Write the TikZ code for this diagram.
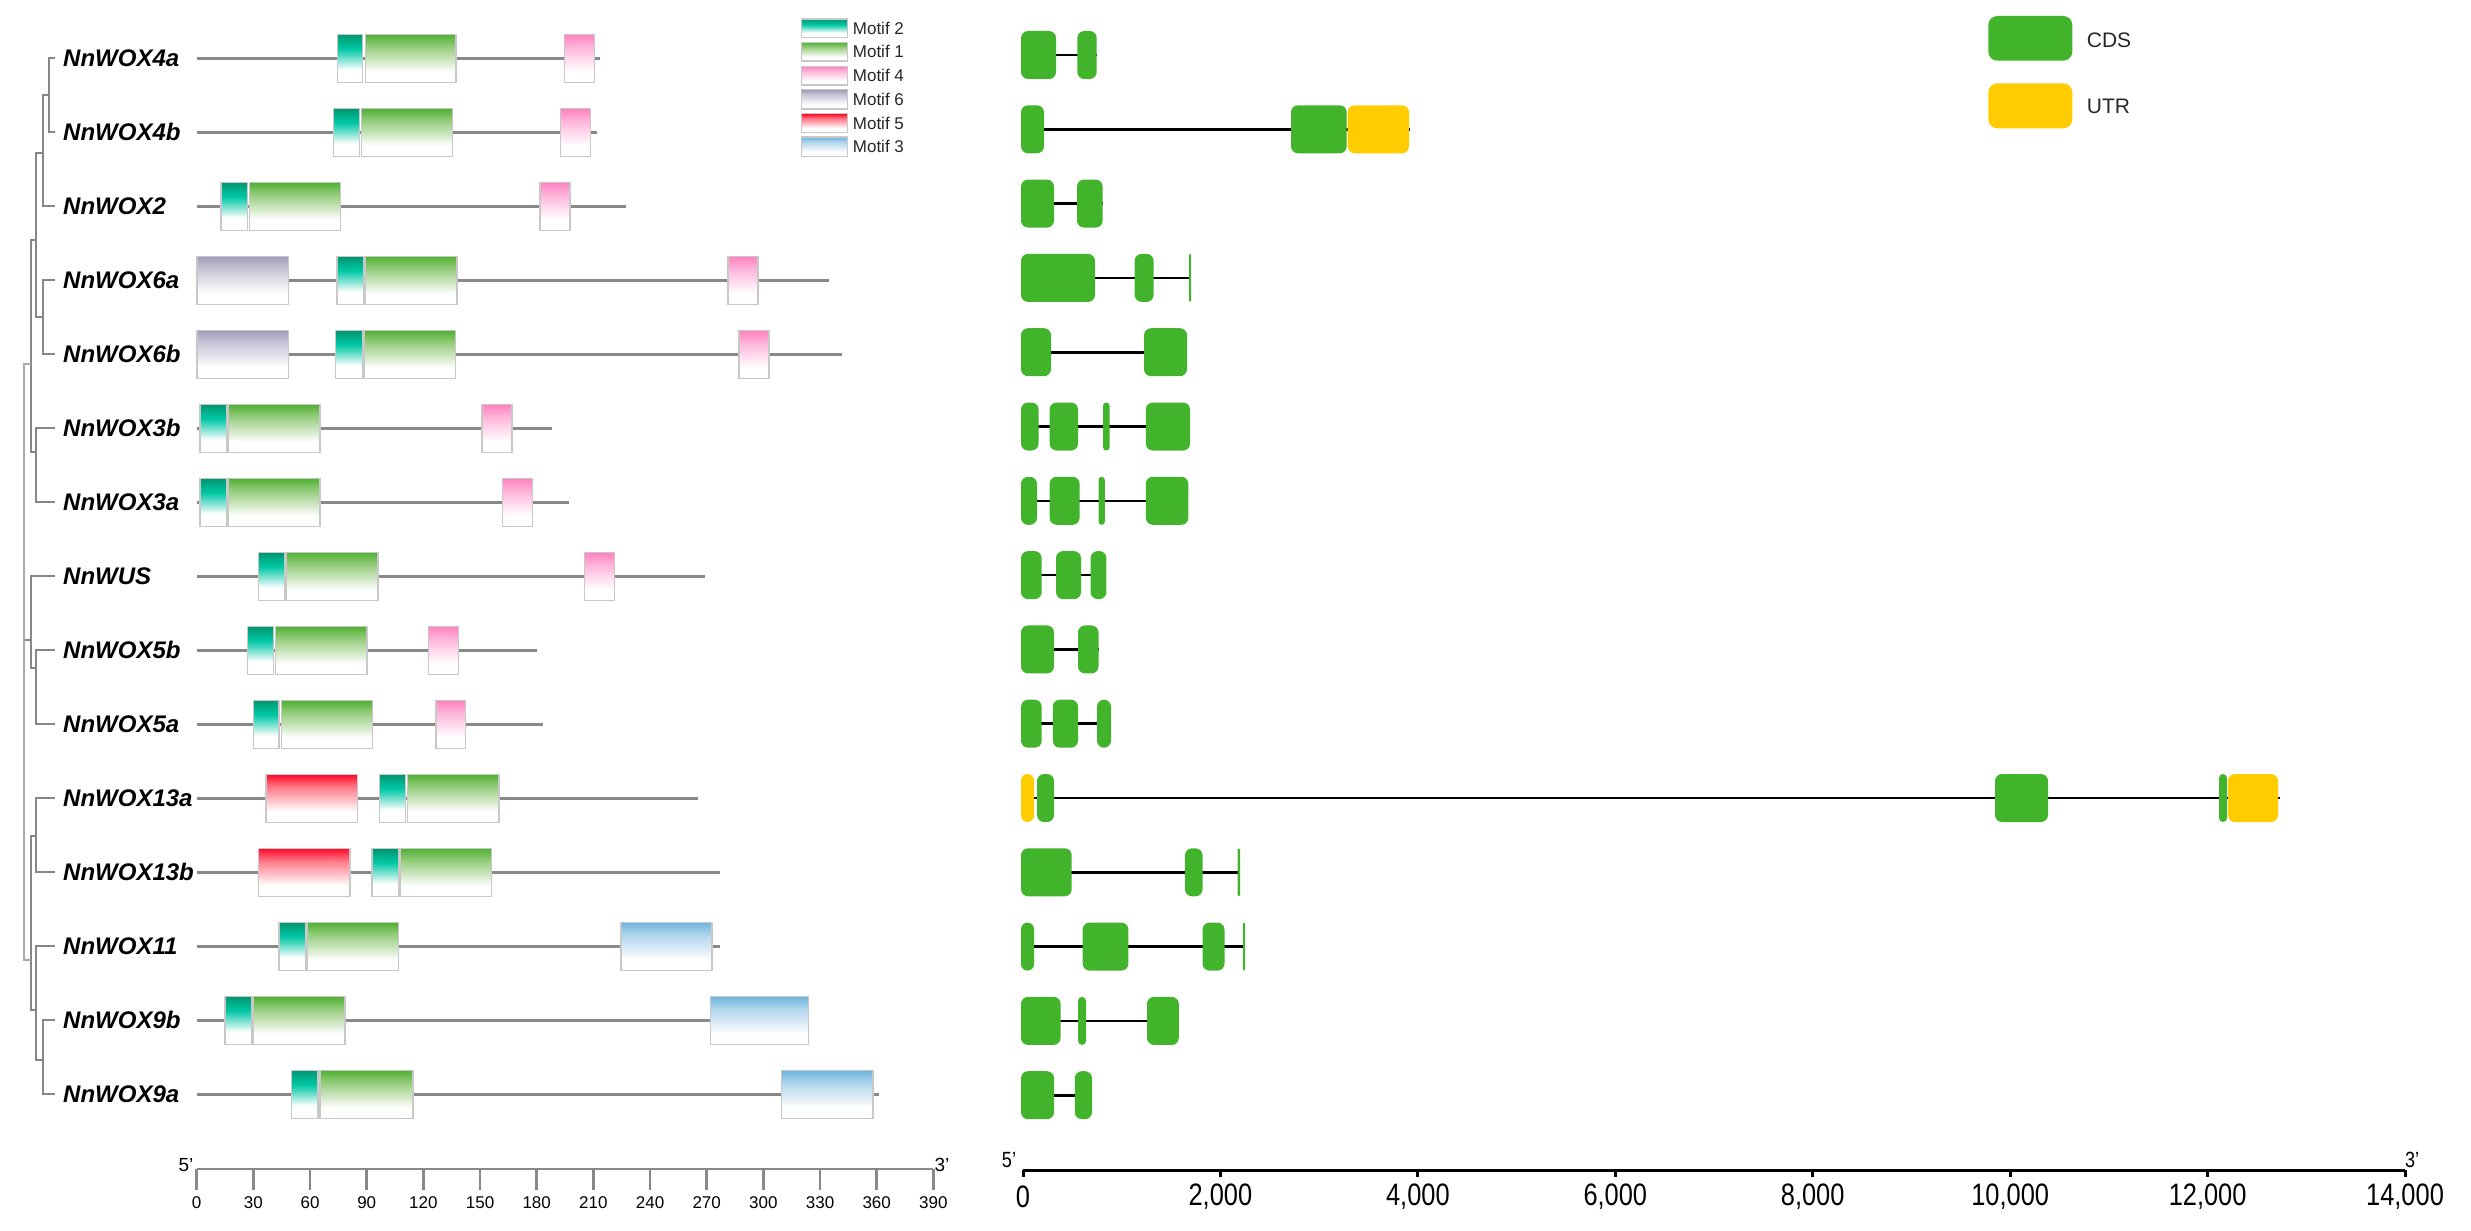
\documentclass[tikz,border=0pt]{standalone}
\usepackage{graphicx}
\usepackage{fontspec}
\setmainfont{Liberation Sans}
\definecolor{m2a}{RGB}{0,150,112}
\definecolor{m2b}{RGB}{0,200,165}
\definecolor{m1a}{RGB}{78,176,48}
\definecolor{m1b}{RGB}{150,205,125}
\definecolor{m4a}{RGB}{255,128,190}
\definecolor{m4b}{RGB}{255,180,218}
\definecolor{m6a}{RGB}{158,156,184}
\definecolor{m6b}{RGB}{200,198,214}
\definecolor{m5a}{RGB}{255,8,40}
\definecolor{m5b}{RGB}{255,120,135}
\definecolor{m3a}{RGB}{108,180,220}
\definecolor{m3b}{RGB}{175,213,236}
\definecolor{cdsgreen}{RGB}{66,180,44}
\definecolor{utryellow}{RGB}{255,204,0}
\definecolor{linegray}{RGB}{136,136,136}
\definecolor{treegray}{RGB}{135,135,135}
\definecolor{rootgray}{RGB}{170,170,170}
\definecolor{boxgray}{RGB}{200,200,200}
\definecolor{textgray}{RGB}{40,40,40}
\pgfdeclareverticalshading{shtwo}{100bp}{color(0bp)=(white); color(25bp)=(white); color(38bp)=(white); color(60bp)=(m2b); color(75bp)=(m2a); color(100bp)=(m2a)}
\pgfdeclareverticalshading{shone}{100bp}{color(0bp)=(white); color(25bp)=(white); color(36bp)=(white); color(62bp)=(m1b); color(75bp)=(m1a); color(100bp)=(m1a)}
\pgfdeclareverticalshading{shfour}{100bp}{color(0bp)=(white); color(25bp)=(white); color(36bp)=(white); color(62bp)=(m4b); color(75bp)=(m4a); color(100bp)=(m4a)}
\pgfdeclareverticalshading{shsix}{100bp}{color(0bp)=(white); color(25bp)=(white); color(36bp)=(white); color(62bp)=(m6b); color(75bp)=(m6a); color(100bp)=(m6a)}
\pgfdeclareverticalshading{shfive}{100bp}{color(0bp)=(white); color(25bp)=(white); color(36bp)=(white); color(62bp)=(m5b); color(75bp)=(m5a); color(100bp)=(m5a)}
\pgfdeclareverticalshading{shthree}{100bp}{color(0bp)=(white); color(25bp)=(white); color(36bp)=(white); color(62bp)=(m3b); color(75bp)=(m3a); color(100bp)=(m3a)}
\tikzset{
  genelab/.style={anchor=west, inner sep=0pt, font=\fontsize{24}{28}\selectfont\bfseries\itshape},
  gline/.style={draw=linegray, line width=2.6pt},
  intron/.style={draw=black, line width=2.6pt},
  treeline/.style={draw=treegray, line width=2pt},
  motifbox/.style={draw=boxgray, line width=1.3pt},
  axisgray/.style={draw=linegray, line width=2.6pt},
  axisblack/.style={draw=black, line width=3pt},
  smalllab/.style={font=\fontsize{17}{20}\selectfont, inner sep=0pt},
  biglab/.style={font=\fontsize{31}{35}\selectfont, inner sep=0pt},
  leglab/.style={font=\fontsize{17}{20}\selectfont, text=textgray, anchor=west, inner sep=0pt},
}
% motif box: #1 shading, #2 x1, #3 x2, #4 row y
\newcommand\motifbx[4]{\path[motifbox, shading=#1] (#2,#4-24) rectangle (#3,#4+24);}
% exon: #1 colour, #2 x1, #3 x2, #4 row y
\newcommand\exonbx[4]{\pgfmathsetmacro\rcrad{min(7,(#3-#2)/2)}\fill[#1, rounded corners=\rcrad pt] (#2,#4-24) rectangle (#3,#4+24);}
\newcommand\narrownum[1]{\scalebox{0.82}[1]{#1}}
\begin{document}
\begin{tikzpicture}[x=1pt,y=-1pt]
\useasboundingbox (0,0) rectangle (2471,1231);
\fill[white] (0,0) rectangle (2471,1231);

% ---------------- gene labels ----------------
\node[genelab] (l4a)  at (63,58.3)  {NnWOX4a};
\node[genelab] (l4b)  at (63,132.3) {NnWOX4b};
\node[genelab] (l2)   at (63,206.3) {NnWOX2};
\node[genelab] (l6a)  at (63,280.3) {NnWOX6a};
\node[genelab] (l6b)  at (63,354.3) {NnWOX6b};
\node[genelab] (l3b)  at (63,428.3) {NnWOX3b};
\node[genelab] (l3a)  at (63,502.3) {NnWOX3a};
\node[genelab] (lwus) at (63,576.3) {NnWUS};
\node[genelab] (l5b)  at (63,650.3) {NnWOX5b};
\node[genelab] (l5a)  at (63,724.3) {NnWOX5a};
\node[genelab] (l13a) at (63,798.3) {NnWOX13a};
\node[genelab] (l13b) at (63,872.3) {NnWOX13b};
\node[genelab] (l11)  at (63,946.3) {NnWOX11};
\node[genelab] (l9b)  at (63,1020.3) {NnWOX9b};
\node[genelab] (l9a)  at (63,1094.3) {NnWOX9a};

% ---------------- tree ----------------
\draw[treeline] (55,58.3) -| (49.3,132.3) -- (55,132.3);
\draw[treeline] (49.3,95.3) -| (42.7,206.3) -- (55,206.3);
\draw[treeline] (55,280.3) -| (42.7,354.3) -- (55,354.3);
\draw[treeline] (42.7,153) -| (36,317.3) -- (42.7,317.3);
\draw[treeline] (55,428.3) -| (36,502.3) -- (55,502.3);
\draw[treeline] (36,240) -| (30.7,452) -- (36,452);
\draw[treeline] (55,650.3) -| (36,724.3) -- (55,724.3);
\draw[treeline] (55,576.3) -| (30.7,668) -- (36,668);
\draw[treeline] (55,798.3) -| (36,872.3) -- (55,872.3);
\draw[treeline] (55,1020.3) -| (42.7,1094.3) -- (55,1094.3);
\draw[treeline] (55,946.3) -| (36,1060) -- (42.7,1060);
\draw[treeline] (36,836) -| (30.7,1010) -- (36,1010);
\draw[treeline] (30.7,640) -- (24,640);
\draw[draw=rootgray, line width=2pt] (30.7,364) -| (24,960) -- (30.7,960);

% ---------------- protein motifs ----------------
\draw[gline] (196.7,58.3) -- (600,58.3);
\motifbx{shtwo}{337.3}{362.7}{58.3}\motifbx{shone}{365.3}{456}{58.3}\motifbx{shfour}{564.3}{594.3}{58.3}
\draw[gline] (196.7,132.3) -- (596.7,132.3);
\motifbx{shtwo}{333.3}{359.7}{132.3}\motifbx{shone}{361.3}{452.3}{132.3}\motifbx{shfour}{560.7}{590.3}{132.3}
\draw[gline] (196.7,206.3) -- (625.7,206.3);
\motifbx{shtwo}{221}{247.7}{206.3}\motifbx{shone}{249.3}{340.7}{206.3}\motifbx{shfour}{540}{570}{206.3}
\draw[gline] (196.7,280.3) -- (829,280.3);
\motifbx{shsix}{197}{288.4}{280.3}\motifbx{shtwo}{337}{364}{280.3}\motifbx{shone}{365.6}{457}{280.3}\motifbx{shfour}{728}{758}{280.3}
\draw[gline] (196.7,354.3) -- (841.6,354.3);
\motifbx{shsix}{197}{288.4}{354.3}\motifbx{shtwo}{335.7}{362.5}{354.3}\motifbx{shone}{364}{455.5}{354.3}\motifbx{shfour}{739}{769}{354.3}
\draw[gline] (196.7,428.3) -- (551.6,428.3);
\motifbx{shtwo}{200}{227}{428.3}\motifbx{shone}{228.5}{320}{428.3}\motifbx{shfour}{482}{512}{428.3}
\draw[gline] (196.7,502.3) -- (569,502.3);
\motifbx{shtwo}{200}{227}{502.3}\motifbx{shone}{228.5}{320}{502.3}\motifbx{shfour}{502.7}{532.7}{502.3}
\draw[gline] (196.7,576.3) -- (704.5,576.3);
\motifbx{shtwo}{258.5}{285}{576.3}\motifbx{shone}{286.8}{378}{576.3}\motifbx{shfour}{584.7}{614.6}{576.3}
\draw[gline] (196.7,650.3) -- (537.3,650.3);
\motifbx{shtwo}{247.6}{273.6}{650.3}\motifbx{shone}{275.5}{367}{650.3}\motifbx{shfour}{428.2}{458.5}{650.3}
\draw[gline] (196.7,724.3) -- (543,724.3);
\motifbx{shtwo}{253.3}{279}{724.3}\motifbx{shone}{281.2}{372.4}{724.3}\motifbx{shfour}{435.9}{465.7}{724.3}
\draw[gline] (196.7,798.3) -- (698,798.3);
\motifbx{shfive}{266}{357.8}{798.3}\motifbx{shtwo}{379.6}{405.6}{798.3}\motifbx{shone}{407.6}{499}{798.3}
\draw[gline] (196.7,872.3) -- (720,872.3);
\motifbx{shfive}{258.5}{350}{872.3}\motifbx{shtwo}{372}{398.7}{872.3}\motifbx{shone}{400}{491.7}{872.3}
\draw[gline] (196.7,946.3) -- (720,946.3);
\motifbx{shtwo}{279}{305.7}{946.3}\motifbx{shone}{307}{398.7}{946.3}\motifbx{shthree}{621}{712}{946.3}
\draw[gline] (196.7,1020.3) -- (808.5,1020.3);
\motifbx{shtwo}{225}{252}{1020.3}\motifbx{shone}{253.7}{345}{1020.3}\motifbx{shthree}{710.8}{808.5}{1020.3}
\draw[gline] (196.7,1094.3) -- (879,1094.3);
\motifbx{shtwo}{291.6}{318}{1094.3}\motifbx{shone}{320}{413}{1094.3}\motifbx{shthree}{781.7}{873}{1094.3}

% motif legend
\path[motifbox, shading=shtwo]   (801.7,19)    rectangle (847.3,37.7);
\path[motifbox, shading=shone]   (801.7,42.3)  rectangle (847.3,61);
\path[motifbox, shading=shfour]  (801.7,66.3)  rectangle (847.3,85);
\path[motifbox, shading=shsix]   (801.7,89.7)  rectangle (847.3,109);
\path[motifbox, shading=shfive]  (801.7,113.7) rectangle (847.3,132.3);
\path[motifbox, shading=shthree] (801.7,137)   rectangle (847.3,156.3);
\node[leglab] (lm2) at (852.7,28.4)  {Motif 2};
\node[leglab] (lm1) at (852.7,51.7)  {Motif 1};
\node[leglab] (lm4) at (852.7,75.7)  {Motif 4};
\node[leglab] (lm6) at (852.7,99.4)  {Motif 6};
\node[leglab] (lm5) at (852.7,123)   {Motif 5};
\node[leglab] (lm3) at (852.7,146.7) {Motif 3};

% left axis
\draw[axisgray] (196.7,1169) -- (933.4,1169);
\foreach \k in {0,...,13}{
  \pgfmathsetmacro\xx{196.7+56.667*\k}
  \pgfmathtruncatemacro\lab{30*\k}
  \draw[axisgray] (\xx,1169) -- (\xx,1190);
  \node[smalllab] (ax\k) at (\xx,1203) {\lab};
}
\node[font=\fontsize{19}{22}\selectfont, inner sep=0pt] (l5p) at (186,1165) {5'};
\node[font=\fontsize{19}{22}\selectfont, inner sep=0pt] (l3p) at (942,1165) {3'};

% ---------------- gene structures ----------------
\draw[intron] (1022,55) -- (1097,55);
\exonbx{cdsgreen}{1021}{1056}{55}\exonbx{cdsgreen}{1077.3}{1096.7}{55}
\draw[intron] (1022,129.3) -- (1410,129.3);
\exonbx{cdsgreen}{1021}{1044}{129.3}\exonbx{cdsgreen}{1291}{1346.7}{129.3}\exonbx{utryellow}{1347.7}{1409}{129.3}
\draw[intron] (1022,203.6) -- (1103,203.6);
\exonbx{cdsgreen}{1021}{1054}{203.6}\exonbx{cdsgreen}{1077}{1102.7}{203.6}
\draw[intron] (1022,277.9) -- (1191,277.9);
\exonbx{cdsgreen}{1021}{1095}{277.9}\exonbx{cdsgreen}{1134.7}{1153.6}{277.9}\exonbx{cdsgreen}{1189}{1191}{277.9}
\draw[intron] (1022,352.2) -- (1187,352.2);
\exonbx{cdsgreen}{1021}{1051}{352.2}\exonbx{cdsgreen}{1144}{1187}{352.2}
\draw[intron] (1022,426.5) -- (1190,426.5);
\exonbx{cdsgreen}{1021}{1038.6}{426.5}\exonbx{cdsgreen}{1049.6}{1078}{426.5}\exonbx{cdsgreen}{1103}{1109.5}{426.5}\exonbx{cdsgreen}{1145.8}{1190}{426.5}
\draw[intron] (1022,500.8) -- (1188.3,500.8);
\exonbx{cdsgreen}{1021}{1037}{500.8}\exonbx{cdsgreen}{1049.6}{1079.6}{500.8}\exonbx{cdsgreen}{1098.5}{1104.8}{500.8}\exonbx{cdsgreen}{1145.8}{1188.3}{500.8}
\draw[intron] (1022,575.1) -- (1106.4,575.1);
\exonbx{cdsgreen}{1021}{1041.7}{575.1}\exonbx{cdsgreen}{1056}{1081}{575.1}\exonbx{cdsgreen}{1090.6}{1106.4}{575.1}
\draw[intron] (1022,649.4) -- (1098.5,649.4);
\exonbx{cdsgreen}{1021}{1054}{649.4}\exonbx{cdsgreen}{1078}{1098.5}{649.4}
\draw[intron] (1022,723.7) -- (1111,723.7);
\exonbx{cdsgreen}{1021}{1041.7}{723.7}\exonbx{cdsgreen}{1052.8}{1078}{723.7}\exonbx{cdsgreen}{1097}{1111}{723.7}
\draw[intron] (1022,798) -- (2280,798);
\exonbx{utryellow}{1021}{1034}{798}\exonbx{cdsgreen}{1037}{1054}{798}\exonbx{cdsgreen}{1995}{2048}{798}\exonbx{cdsgreen}{2219}{2227}{798}\exonbx{utryellow}{2228}{2278}{798}
\draw[intron] (1022,872.3) -- (1240,872.3);
\exonbx{cdsgreen}{1021}{1071.7}{872.3}\exonbx{cdsgreen}{1185}{1202.5}{872.3}\exonbx{cdsgreen}{1237.5}{1240}{872.3}
\draw[intron] (1022,946.6) -- (1245,946.6);
\exonbx{cdsgreen}{1021}{1034}{946.6}\exonbx{cdsgreen}{1082.7}{1128.4}{946.6}\exonbx{cdsgreen}{1202.5}{1224.5}{946.6}\exonbx{cdsgreen}{1243}{1245}{946.6}
\draw[intron] (1022,1020.9) -- (1178.8,1020.9);
\exonbx{cdsgreen}{1021}{1060.6}{1020.9}\exonbx{cdsgreen}{1078}{1086}{1020.9}\exonbx{cdsgreen}{1147}{1178.8}{1020.9}
\draw[intron] (1022,1095.2) -- (1092,1095.2);
\exonbx{cdsgreen}{1021}{1054}{1095.2}\exonbx{cdsgreen}{1074.8}{1092}{1095.2}

% CDS / UTR legend
\fill[cdsgreen, rounded corners=9pt] (1988.3,16) rectangle (2072.3,60.7);
\fill[utryellow, rounded corners=9pt] (1988.3,83.3) rectangle (2072.3,128.3);
\node[anchor=west, inner sep=0pt, font=\fontsize{21}{24}\selectfont, text=textgray] (lcds) at (2086.7,40) {CDS};
\node[anchor=west, inner sep=0pt, font=\fontsize{21}{24}\selectfont, text=textgray] (lutr) at (2086.7,106.7) {UTR};

% right axis
\draw[axisblack] (1023,1170) -- (2405,1170);
\foreach \k in {0,...,7}{
  \pgfmathsetmacro\xx{1023+197.43*\k}
  \draw[axisblack] (\xx,1170) -- (\xx,1177);
}
\node[biglab] (r0) at (1023,1197) {\narrownum{0}};
\node[biglab] (r1) at (1220.4,1197) {\narrownum{2,000}};
\node[biglab] (r2) at (1417.9,1197) {\narrownum{4,000}};
\node[biglab] (r3) at (1615.3,1197) {\narrownum{6,000}};
\node[biglab] (r4) at (1812.7,1197) {\narrownum{8,000}};
\node[biglab] (r5) at (2010.2,1197) {\narrownum{10,000}};
\node[biglab] (r6) at (2207.6,1197) {\narrownum{12,000}};
\node[biglab] (r7) at (2405,1197) {\narrownum{14,000}};
\node[font=\fontsize{22}{25}\selectfont, inner sep=0pt] (r5p) at (1009,1160) {\narrownum{5'}};
\node[font=\fontsize{22}{25}\selectfont, inner sep=0pt] (r3p) at (2412,1160) {\narrownum{3'}};
\end{tikzpicture}
\end{document}
